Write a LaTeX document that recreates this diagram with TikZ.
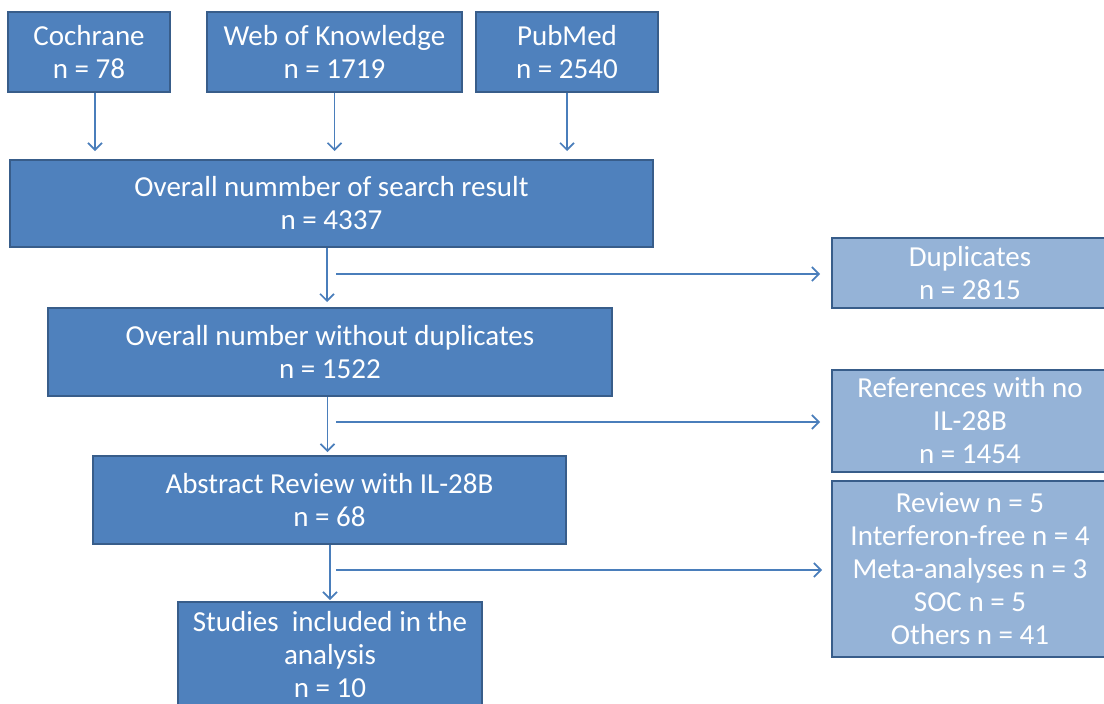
\documentclass[tikz,border=0pt]{standalone}
\usepackage{fontspec}
\setmainfont{Carlito}
\usetikzlibrary{arrows.meta}
\definecolor{boxblue}{HTML}{4F81BD}
\definecolor{lightblue}{HTML}{95B3D7}
\definecolor{edgeblue}{HTML}{385D8A}
\definecolor{arrowblue}{HTML}{4A7EBB}

\begin{document}
\begin{tikzpicture}[x=1pt,y=-1pt,
	box/.style={draw=edgeblue,line width=2pt,fill=boxblue,text=white,align=center,inner sep=0pt,font=\fontsize{29}{33}\selectfont},
	side/.style={box,fill=lightblue},
	arr/.style={draw=arrowblue,line width=1.6pt,-{Straight Barb[length=7pt,width=14pt]}}]
	\useasboundingbox (0,0) rectangle (1104,704);
	\clip (0,0) rectangle (1104,704);
	\node[box,minimum width=162,minimum height=80] (cochrane) at (89,52) {Cochrane\\n = 78};
	\node[box,minimum width=255,minimum height=80] (wok) at (334.5,52) {Web of Knowledge\\n = 1719};
	\node[box,minimum width=182,minimum height=80] (pubmed) at (567,52) {PubMed\\n = 2540};
	\node[box,minimum width=643,minimum height=87] (overall) at (331.5,203.5) {Overall nummber of search result\\n = 4337};
	\node[box,minimum width=564,minimum height=88] (nodup) at (330,352) {Overall number without duplicates\\n = 1522};
	\node[box,minimum width=473,minimum height=88] (abstract) at (329.5,500) {Abstract Review with IL-28B\\n = 68};
	\node[box,minimum width=304,minimum height=106] (studies) at (330,655) {Studies\ \ included in the\\analysis\\n = 10};
	\node[side,minimum width=276,minimum height=70] (dupl) at (970,273) {Duplicates\\n = 2815};
	\node[side,minimum width=276,minimum height=102] (noil) at (970,421) {References with no\\IL-28B\\n = 1454};
	\node[side,minimum width=276,minimum height=176] (excl) at (970,569) {Review n = 5\\Interferon-free n = 4\\Meta-analyses n = 3\\SOC n = 5\\Others n = 41};
	\coordinate (d1) at (336,274);
	\coordinate (d2) at (336,422);
	\coordinate (d3) at (336,570);
	\draw[arr,shorten >=8pt] ([xshift=6pt]cochrane.south) -- ([xshift=6pt]cochrane.south |- overall.north);
	\draw[arr,shorten >=8pt] (wok.south) -- (wok.south |- overall.north);
	\draw[arr,shorten >=8pt] (pubmed.south) -- (pubmed.south |- overall.north);
	\draw[arr,shorten >=5pt] ([xshift=-3pt]overall.south -| nodup.north) -- ([xshift=-3pt]nodup.north);
	\draw[arr,shorten >=3pt] ([xshift=-2pt]nodup.south -| abstract.north) -- ([xshift=-2pt]abstract.north);
	\draw[arr,shorten >=1pt] (abstract.south -| studies.north) -- (studies.north);
	\draw[arr,shorten >=11pt] (d1) -- (d1 -| dupl.west);
	\draw[arr,shorten >=11pt] (d2) -- (d2 -| noil.west);
	\draw[arr,shorten >=9pt] (d3) -- (d3 -| excl.west);
\end{tikzpicture}
\end{document}
